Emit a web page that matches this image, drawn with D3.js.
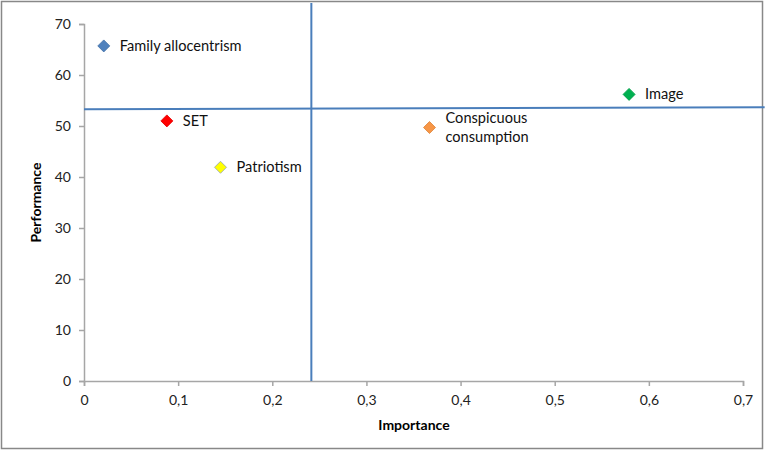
<!DOCTYPE html>
<html>
<head>
<meta charset="utf-8">
<script src="https://cdn.jsdelivr.net/npm/d3@7"></script>
<style>
  body { margin: 0; background: #fff; }
  svg { display: block; font-family: Lato, "Open Sans", sans-serif; }
</style>
</head>
<body>
<svg id="chart" width="765" height="451"></svg>
<script>
// Importance-performance map

const names = ["Family allocentrism", "SET", "Patriotism", "Conspicuous consumption", "Image"];
const importance = [0.021, 0.088, 0.145, 0.367, 0.579];
const performance = [65.7, 51.0, 41.9, 49.7, 56.2];
const colors = ["#4F81BD", "#FF0000", "#FFFF00", "#F79646", "#00B050"];
const xTicks = [0, 0.1, 0.2, 0.3, 0.4, 0.5, 0.6, 0.7];
const yTicks = [0, 10, 20, 30, 40, 50, 60, 70];

// quadrant dividers (mean importance / mean performance)
const meanImportance = 0.2415;
const meanLine = [[0, 53.3], [0.723, 53.7]];

const width = 765, height = 451;
const margin = {left: 84, right: 22, top: 24, bottom: 70};

const x = d3.scaleLinear().domain([0, 0.7]).range([margin.left, width - margin.right]);
const y = d3.scaleLinear().domain([0, 70]).range([height - margin.bottom, margin.top]);

const svg = d3.select("#chart");

svg.append("rect")
    .attr("x", 1.5).attr("y", 1.5)
    .attr("width", width - 4).attr("height", height - 4)
    .attr("fill", "#fff")
    .attr("stroke", "#888")
    .attr("stroke-width", 1.5);

const comma = d => String(d).replace(".", ",");

const xAxis = svg.append("g")
    .attr("transform", `translate(0,${y(0)})`)
    .call(d3.axisBottom(x).tickValues(xTicks).tickFormat(comma).tickSize(5).tickPadding(9));

const yAxis = svg.append("g")
    .attr("transform", `translate(${x(0)},0)`)
    .call(d3.axisLeft(y).tickValues(yTicks).tickSize(5).tickPadding(8));

[xAxis, yAxis].forEach(a => {
  a.selectAll("path, line").attr("stroke", "#a6a6a6").attr("stroke-width", 1.5);
  a.selectAll("text").attr("fill", "#222").style("font-size", "14px")
      .style("font-family", "Lato, 'Open Sans', sans-serif");
});

svg.append("text")
    .attr("x", 414).attr("y", 430)
    .attr("text-anchor", "middle")
    .style("font-size", "14px").style("font-weight", "bold")
    .text("Importance");

svg.append("text")
    .attr("transform", `translate(41,${(y(0) + y(70)) / 2}) rotate(-90)`)
    .attr("text-anchor", "middle")
    .style("font-size", "14px").style("font-weight", "bold")
    .text("Performance");

// divider lines
svg.append("line")
    .attr("x1", x(meanImportance)).attr("x2", x(meanImportance))
    .attr("y1", 3).attr("y2", y(0))
    .attr("stroke", "#4A7EBB").attr("stroke-width", 2);

svg.append("line")
    .attr("x1", x(meanLine[0][0])).attr("y1", y(meanLine[0][1]))
    .attr("x2", x(meanLine[1][0])).attr("y2", y(meanLine[1][1]))
    .attr("stroke", "#4A7EBB").attr("stroke-width", 2);

// points
const pts = svg.append("g")
  .selectAll("g")
  .data(names.map((n, i) => ({name: n, x: importance[i], y: performance[i], c: colors[i]})))
  .join("g")
    .attr("transform", d => `translate(${x(d.x)},${y(d.y)})`);

pts.append("path")
    .attr("d", d3.symbol(d3.symbolSquare, 72))
    .attr("transform", "rotate(45)")
    .attr("fill", d => d.c)
    .attr("stroke", d => d.name === "Patriotism" ? "#9aa6b4" : d3.color(d.c).darker(0.3))
    .attr("stroke-width", 0.8);

const label = pts.append("text")
    .attr("x", 16)
    .style("font-size", "14.6px")
    .attr("fill", "#111");

label.each(function(d) {
  const t = d3.select(this);
  const lines = d.name === "Conspicuous consumption" ? ["Conspicuous", "consumption"] : [d.name];
  const y0 = lines.length > 1 ? -5 : 5;
  lines.forEach((l, i) => t.append("tspan").attr("x", 16).attr("y", y0 + i * 19).text(l));
});
</script>
</body>
</html>
